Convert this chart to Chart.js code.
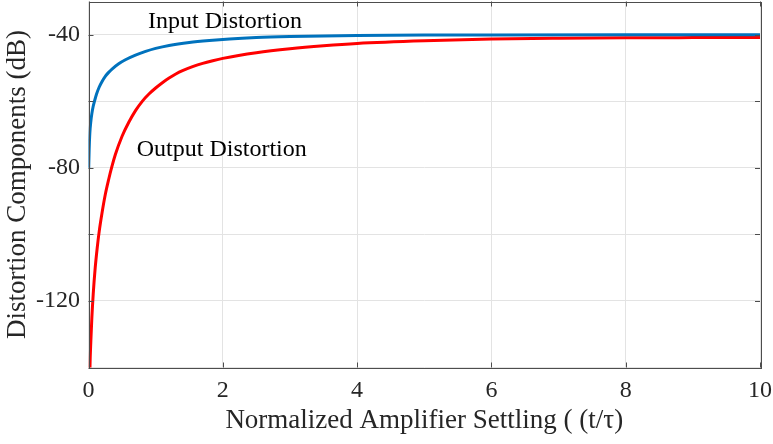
<!DOCTYPE html>
<html>
<head>
<meta charset="utf-8">
<script src="https://cdn.jsdelivr.net/npm/chart.js@4.4.1/dist/chart.umd.min.js"></script>
<style>
  body { margin: 0; background: #ffffff; }
  #wrap { width: 773px; height: 444px; }
</style>
</head>
<body>
<div id="wrap"><canvas id="distortionChart" width="773" height="444"></canvas></div>
<script>
// values
const inputT  = [0.003, 0.01, 0.02, 0.035, 0.05, 0.07, 0.09, 0.12, 0.16, 0.2, 0.25, 0.3, 0.35, 0.45, 0.55, 0.7, 0.85, 1.0, 1.2, 1.5, 1.8, 2.1, 2.5, 3.0, 3.5, 4.0, 5.0, 6.0, 8.0, 10.0];
const inputDb = [-80, -74.5, -69.5, -66, -63.7, -61.5, -59.9, -57.8, -55.7, -54.1, -52.5, -51.3, -50.3, -48.7, -47.5, -46.1, -45.0, -44.1, -43.2, -42.3, -41.7, -41.25, -40.85, -40.55, -40.35, -40.22, -40.1, -40.05, -40.01, -40];

const outputT  = [0.015, 0.022, 0.035, 0.05, 0.07, 0.1, 0.13, 0.16, 0.2, 0.25, 0.3, 0.35, 0.4, 0.5, 0.6, 0.7, 0.8, 0.9, 1.0, 1.1, 1.2, 1.3, 1.4, 1.55, 1.7, 1.85, 2.0, 2.5, 3.0, 3.5, 4.0, 5.0, 6.0, 7.0, 8.0, 9.0, 10.0];
const outputDb = [-150, -140, -132, -125, -118, -110, -104, -99, -93.7, -88, -83.5, -79.5, -76, -70.5, -66.3, -62.8, -60, -57.8, -56, -54.4, -53, -51.8, -50.8, -49.6, -48.6, -47.8, -47.1, -45.4, -44.2, -43.3, -42.6, -41.8, -41.3, -41.05, -40.9, -40.85, -40.8];

const yTickLabels = [-40, -80, -120];

const labels = [
  { text: 'Input Distortion', t: 0.886, db: -38.1 },
  { text: 'Output Distortion', t: 0.718, db: -76.3 }
];

const axisColor = '#4d4d4d';
const textColor = '#262626';
const serif = '"Liberation Serif", "Times New Roman", serif';

function toPoints(xs, ys) {
  return xs.map((x, i) => ({ x: x, y: ys[i] }));
}

// MATLAB style box with inward ticks + the text annotations
const boxPlugin = {
  id: 'boxPlugin',
  afterDatasetsDraw(chart) {
    const ctx = chart.ctx;
    const a = chart.chartArea;
    const xs = chart.scales.x;
    const ys = chart.scales.y;
    const len = 5;

    ctx.save();
    ctx.strokeStyle = axisColor;
    ctx.lineWidth = 1;
    ctx.beginPath();
    xs.ticks.forEach(tk => {
      const px = Math.round(xs.getPixelForValue(tk.value)) + 0.5;
      ctx.moveTo(px, a.bottom); ctx.lineTo(px, a.bottom - len);
      ctx.moveTo(px, a.top); ctx.lineTo(px, a.top + len);
    });
    ys.ticks.forEach(tk => {
      const py = Math.round(ys.getPixelForValue(tk.value)) + 0.5;
      ctx.moveTo(a.left, py); ctx.lineTo(a.left + len, py);
      ctx.moveTo(a.right, py); ctx.lineTo(a.right - len, py);
    });
    ctx.stroke();
    ctx.strokeRect(Math.round(a.left) + 0.5, Math.round(a.top) + 0.5,
      Math.round(a.right - a.left), Math.round(a.bottom - a.top));

    ctx.fillStyle = '#000000';
    ctx.font = '24px ' + serif;
    ctx.textAlign = 'left';
    ctx.textBaseline = 'alphabetic';
    labels.forEach(l => {
      ctx.fillText(l.text, xs.getPixelForValue(l.t), ys.getPixelForValue(l.db));
    });
    ctx.restore();
  }
};

const ctx = document.getElementById('distortionChart').getContext('2d');

new Chart(ctx, {
  type: 'line',
  data: {
    datasets: [
      {
        label: 'Input Distortion',
        data: toPoints(inputT, inputDb),
        borderColor: '#0072BD',
        borderWidth: 3,
        pointRadius: 0,
        cubicInterpolationMode: 'monotone'
      },
      {
        label: 'Output Distortion',
        data: toPoints(outputT, outputDb),
        borderColor: '#FF0000',
        borderWidth: 3,
        pointRadius: 0,
        cubicInterpolationMode: 'monotone'
      }
    ]
  },
  options: {
    responsive: false,
    animation: false,
    devicePixelRatio: 1,
    layout: { padding: { left: 0, right: 13, top: 1.5, bottom: 0 } },
    plugins: {
      legend: { display: false },
      tooltip: { enabled: false }
    },
    scales: {
      x: {
        type: 'linear',
        min: 0,
        max: 10,
        ticks: {
          stepSize: 2,
          padding: 9,
          color: textColor,
          font: { family: serif, size: 24 }
        },
        grid: { color: '#e3e3e3', drawTicks: false },
        border: { display: false },
        title: {
          display: true,
          text: 'Normalized Amplifier Settling ( (t/τ)',
          color: textColor,
          font: { family: serif, size: 27 },
          padding: { top: 0, bottom: 7 }
        },
        afterFit(scale) {
          scale.height = 76.5;
          scale.paddingLeft = 0;
          scale.paddingRight = 0;
        }
      },
      y: {
        type: 'linear',
        min: -140,
        max: -30,
        ticks: {
          stepSize: 20,
          padding: 8.5,
          color: textColor,
          font: { family: serif, size: 24 },
          callback: value => yTickLabels.includes(value) ? String(value) : ''
        },
        afterBuildTicks(scale) {
          scale.ticks = scale.ticks.filter(t => t.value % 20 === 0);
        },
        grid: { color: '#e3e3e3', drawTicks: false },
        border: { display: false },
        title: {
          display: true,
          text: 'Distortion Components (dB)',
          color: textColor,
          font: { family: serif, size: 27 },
          padding: { top: 2, bottom: 0 }
        },
        afterFit(scale) {
          scale.width = 88.5;
          scale.paddingTop = 0;
          scale.paddingBottom = 0;
        }
      }
    }
  },
  plugins: [boxPlugin]
});
</script>
</body>
</html>
